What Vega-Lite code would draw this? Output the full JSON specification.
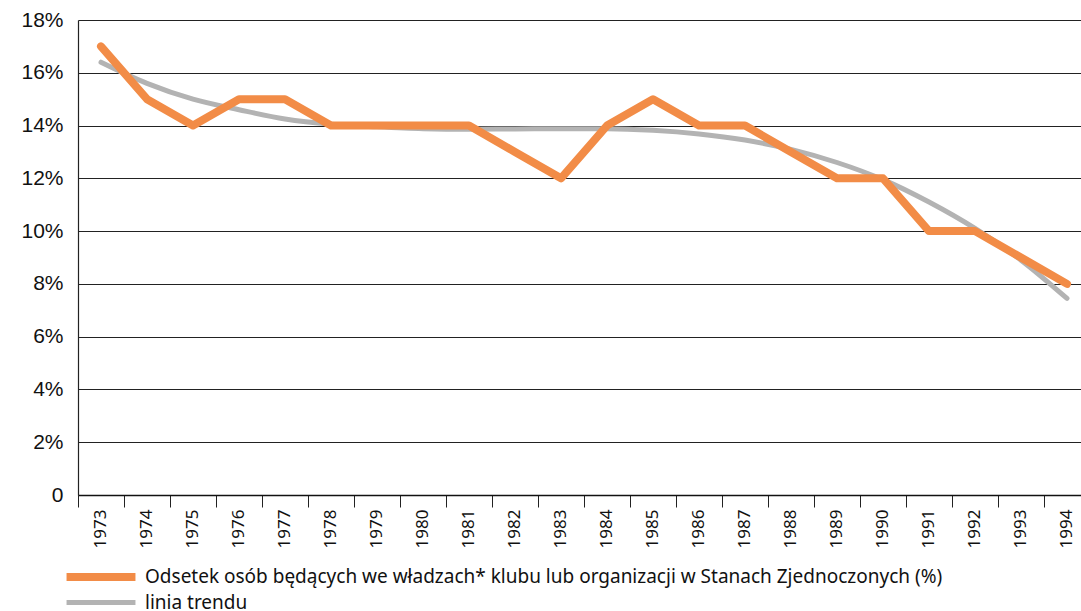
{
  "$schema": "https://vega.github.io/schema/vega-lite/v6.json",
  "width": 1003,
  "height": 475,
  "autosize": {"type": "none"},
  "padding": {"left": 78, "top": 20, "right": 0, "bottom": 116},
  "background": "white",
  "config": {
    "view": {"stroke": null},
    "font": "Noto Sans",
    "axisX": {"labelFontSize": 17}
  },
  "datasets": {
    "main": [
      {"year": "1973", "series": "Odsetek osób będących we władzach* klubu lub organizacji w Stanach Zjednoczonych (%)", "value": 17},
      {"year": "1974", "series": "Odsetek osób będących we władzach* klubu lub organizacji w Stanach Zjednoczonych (%)", "value": 15},
      {"year": "1975", "series": "Odsetek osób będących we władzach* klubu lub organizacji w Stanach Zjednoczonych (%)", "value": 14},
      {"year": "1976", "series": "Odsetek osób będących we władzach* klubu lub organizacji w Stanach Zjednoczonych (%)", "value": 15},
      {"year": "1977", "series": "Odsetek osób będących we władzach* klubu lub organizacji w Stanach Zjednoczonych (%)", "value": 15},
      {"year": "1978", "series": "Odsetek osób będących we władzach* klubu lub organizacji w Stanach Zjednoczonych (%)", "value": 14},
      {"year": "1979", "series": "Odsetek osób będących we władzach* klubu lub organizacji w Stanach Zjednoczonych (%)", "value": 14},
      {"year": "1980", "series": "Odsetek osób będących we władzach* klubu lub organizacji w Stanach Zjednoczonych (%)", "value": 14},
      {"year": "1981", "series": "Odsetek osób będących we władzach* klubu lub organizacji w Stanach Zjednoczonych (%)", "value": 14},
      {"year": "1982", "series": "Odsetek osób będących we władzach* klubu lub organizacji w Stanach Zjednoczonych (%)", "value": 13},
      {"year": "1983", "series": "Odsetek osób będących we władzach* klubu lub organizacji w Stanach Zjednoczonych (%)", "value": 12},
      {"year": "1984", "series": "Odsetek osób będących we władzach* klubu lub organizacji w Stanach Zjednoczonych (%)", "value": 14},
      {"year": "1985", "series": "Odsetek osób będących we władzach* klubu lub organizacji w Stanach Zjednoczonych (%)", "value": 15},
      {"year": "1986", "series": "Odsetek osób będących we władzach* klubu lub organizacji w Stanach Zjednoczonych (%)", "value": 14},
      {"year": "1987", "series": "Odsetek osób będących we władzach* klubu lub organizacji w Stanach Zjednoczonych (%)", "value": 14},
      {"year": "1988", "series": "Odsetek osób będących we władzach* klubu lub organizacji w Stanach Zjednoczonych (%)", "value": 13},
      {"year": "1989", "series": "Odsetek osób będących we władzach* klubu lub organizacji w Stanach Zjednoczonych (%)", "value": 12},
      {"year": "1990", "series": "Odsetek osób będących we władzach* klubu lub organizacji w Stanach Zjednoczonych (%)", "value": 12},
      {"year": "1991", "series": "Odsetek osób będących we władzach* klubu lub organizacji w Stanach Zjednoczonych (%)", "value": 10},
      {"year": "1992", "series": "Odsetek osób będących we władzach* klubu lub organizacji w Stanach Zjednoczonych (%)", "value": 10},
      {"year": "1993", "series": "Odsetek osób będących we władzach* klubu lub organizacji w Stanach Zjednoczonych (%)", "value": 9},
      {"year": "1994", "series": "Odsetek osób będących we władzach* klubu lub organizacji w Stanach Zjednoczonych (%)", "value": 8}
    ],
    "trend": [
      {"year": "1973", "series": "linia trendu", "value": 16.4},
      {"year": "1974", "series": "linia trendu", "value": 15.6},
      {"year": "1975", "series": "linia trendu", "value": 15.0},
      {"year": "1976", "series": "linia trendu", "value": 14.6},
      {"year": "1977", "series": "linia trendu", "value": 14.25},
      {"year": "1978", "series": "linia trendu", "value": 14.05},
      {"year": "1979", "series": "linia trendu", "value": 13.95},
      {"year": "1980", "series": "linia trendu", "value": 13.88},
      {"year": "1981", "series": "linia trendu", "value": 13.86},
      {"year": "1982", "series": "linia trendu", "value": 13.87},
      {"year": "1983", "series": "linia trendu", "value": 13.88},
      {"year": "1984", "series": "linia trendu", "value": 13.88},
      {"year": "1985", "series": "linia trendu", "value": 13.82},
      {"year": "1986", "series": "linia trendu", "value": 13.68},
      {"year": "1987", "series": "linia trendu", "value": 13.45},
      {"year": "1988", "series": "linia trendu", "value": 13.1},
      {"year": "1989", "series": "linia trendu", "value": 12.6},
      {"year": "1990", "series": "linia trendu", "value": 11.95},
      {"year": "1991", "series": "linia trendu", "value": 11.1},
      {"year": "1992", "series": "linia trendu", "value": 10.1},
      {"year": "1993", "series": "linia trendu", "value": 8.9},
      {"year": "1994", "series": "linia trendu", "value": 7.45}
    ]
  },
  "encoding": {
    "x": {
      "field": "year",
      "type": "ordinal",
      "scale": {"type": "band", "range": [0, 1012], "paddingInner": 0, "paddingOuter": 0},
      "axis": {
        "title": null,
        "bandPosition": 0,
        "labelAngle": -90,
        "labelAlign": "right",
        "labelBaseline": "middle",
        "labelFont": "Noto Sans",
        "labelFontSize": 17,
        "labelColor": "#111",
        "labelPadding": 2,
        "tickSize": 12,
        "tickColor": "#222",
        "domainColor": "#111",
        "domainWidth": 1.5,
        "grid": false
      }
    },
    "y": {
      "field": "value",
      "type": "quantitative",
      "scale": {"domain": [0, 18], "nice": false},
      "axis": {
        "title": null,
        "values": [0, 2, 4, 6, 8, 10, 12, 14, 16, 18],
        "labelExpr": "datum.value == 0 ? '0' : datum.value + '%'",
        "labelFont": "Liberation Sans",
        "labelFontSize": 21,
        "labelColor": "#111",
        "labelPadding": 15,
        "ticks": false,
        "domainColor": "#222",
        "domainWidth": 1.2,
        "grid": true,
        "gridColor": "#222",
        "gridWidth": 1.2
      }
    }
  },
  "layer": [
    {
      "data": {"name": "trend"},
      "mark": {"type": "line", "strokeCap": "round", "strokeJoin": "round", "interpolate": "monotone"},
      "encoding": {
        "color": {
          "field": "series",
          "type": "nominal",
          "scale": {
            "domain": ["Odsetek osób będących we władzach* klubu lub organizacji w Stanach Zjednoczonych (%)", "linia trendu"],
            "range": ["#F28C47", "#B3B3B3"]
          },
          "legend": {
            "title": null,
            "orient": "none",
            "legendX": 12,
            "legendY": 546,
            "symbolType": "M-5,0H5",
            "symbolSize": 190,
            "labelFont": "Noto Sans",
            "labelFontSize": 19,
            "labelColor": "#111",
            "labelLimit": 1000,
            "rowPadding": -5,
            "labelOffset": 33
          }
        },
        "strokeWidth": {
          "field": "series",
          "type": "nominal",
          "scale": {
            "domain": ["Odsetek osób będących we władzach* klubu lub organizacji w Stanach Zjednoczonych (%)", "linia trendu"],
            "range": [8, 5]
          },
          "legend": {
            "title": null,
            "orient": "none",
            "legendX": 12,
            "legendY": 546,
            "symbolType": "M-5,0H5",
            "symbolSize": 190,
            "labelFont": "Noto Sans",
            "labelFontSize": 19,
            "labelColor": "#111",
            "labelLimit": 1000,
            "rowPadding": -5,
            "labelOffset": 33
          }
        }
      }
    },
    {
      "data": {"name": "main"},
      "mark": {"type": "line", "strokeCap": "round", "strokeJoin": "round"},
      "encoding": {
        "color": {"field": "series", "type": "nominal"},
        "strokeWidth": {"field": "series", "type": "nominal"}
      }
    }
  ]
}
